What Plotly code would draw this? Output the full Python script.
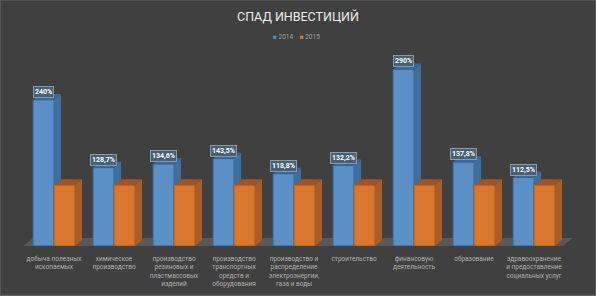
import plotly.graph_objects as go

categories = ["добыча полезных<br>ископаемых", "химическое<br>производство",
              "производство<br>резиновых и<br>пластмассовых<br>изделий",
              "производство<br>транспортных<br>средств и<br>оборудования",
              "производство и<br>распределение<br>электроэнергии,<br>газа и воды",
              "строительство", "финансовую<br>деятельность", "образование",
              "здравоохранение<br>и предоставление<br>социальных услуг"]
values_2014 = [240, 128.7, 134.6, 143.5, 118.8, 132.2, 290, 137.8, 112.5]
values_2015 = [100, 100, 100, 100, 100, 100, 100, 100, 100]
labels_2014 = ["240%", "128,7%", "134,6%", "143,5%", "118,8%", "132,2%", "290%", "137,8%", "112,5%"]

W, H = 596, 296
BASE_PX = 246.5
PX_PER_UNIT = 0.61
CAT_PX = 60.0
X0_PX = 54.0
DX = 7 / CAT_PX          # depth of the pseudo-3D bars, data units
DY = 6 / PX_PER_UNIT
BW = 21 / CAT_PX
FONT = "Roboto, Lato, sans-serif"

BLUE, BLUE_SIDE, BLUE_TOP, BLUE_LINE = "#5a90c6", "#3f6f9f", "#39689a", "#2f6497"
ORANGE, ORANGE_SIDE, ORANGE_TOP, ORANGE_LINE = "#d9772f", "#a95d29", "#9c5526", "#a8581f"

xs = list(range(len(categories)))
fig = go.Figure()
fig.add_bar(x=xs, y=values_2014, name="2014", showlegend=False,
            marker=dict(color=BLUE, line=dict(color=BLUE_LINE, width=1)))
fig.add_bar(x=xs, y=values_2015, name="2015", showlegend=False,
            marker=dict(color=ORANGE, line=dict(color=ORANGE_LINE, width=1)))


def poly(px, py, color):
    fig.add_scatter(x=px + [px[0]], y=py + [py[0]], mode="lines", fill="toself", fillcolor=color,
                    line=dict(width=0, color=color), showlegend=False, hoverinfo="skip")


for i, (a, b) in enumerate(zip(values_2014, values_2015)):
    # blue side and top; the part behind the orange bar is left out
    r = i
    poly([r, r, r + DX, r + DX], [min(a, b), a, a + DY, min(a, b)], BLUE_SIDE)
    poly([r - BW, r, r + DX, r - BW + DX], [a, a, a + DY, a + DY], BLUE_TOP)
    # orange side and top
    r = i + BW
    poly([r, r, r + DX, r + DX], [0, b, b + DY, DY], ORANGE_SIDE)
    poly([r - BW, r, r + DX, r - BW + DX], [b, b, b + DY, b + DY], ORANGE_TOP)

for i, (a, t) in enumerate(zip(values_2014, labels_2014)):
    fig.add_annotation(x=i - BW / 2, y=a, text=f"<b>{t}</b>", showarrow=False, yanchor="bottom", yshift=2,
                       font=dict(family=FONT, size=7, color="#ffffff"),
                       bgcolor="#46607a", bordercolor="#8c99a6", borderwidth=1, borderpad=1)

# legend line
fig.add_annotation(xref="paper", yref="paper", x=296 / W, y=1 - 37.5 / BASE_PX, showarrow=False,
                   xanchor="center", yanchor="middle",
                   text=f'<span style="color:{BLUE}">■</span> 2014    <span style="color:{ORANGE}">■</span> 2015',
                   font=dict(family=FONT, size=6.5, color="#a0a0a0"))

floor_y = 13
fig.add_shape(type="path", layer="below", xref="x", yref="y", line=dict(width=0), fillcolor="#595858",
              path=f"M {(23 - X0_PX) / CAT_PX} 0 L {(33 - X0_PX) / CAT_PX} {floor_y} "
                   f"L {(573 - X0_PX) / CAT_PX} {floor_y} L {(563 - X0_PX) / CAT_PX} 0 Z")
fig.add_shape(type="rect", xref="paper", yref="paper", x0=0, x1=1, y0=-(H - BASE_PX) / BASE_PX, y1=1,
              line=dict(color="#6a6a6a", width=1), fillcolor="rgba(0,0,0,0)")

fig.update_layout(
    width=W, height=H, autosize=False, barmode="group", bargap=0.3, bargroupgap=0, showlegend=False,
    paper_bgcolor="#404040", plot_bgcolor="rgba(0,0,0,0)",
    margin=dict(l=0, r=0, t=0, b=H - BASE_PX, pad=0),
    font=dict(family=FONT, color="#b0b0b0", size=6.5),
    title=dict(text="СПАД ИНВЕСТИЦИЙ", x=298 / W, xanchor="center", y=1 - 17 / H, yanchor="middle",
               font=dict(family=FONT, size=12.5, color="#ededed")),
    xaxis=dict(range=[-X0_PX / CAT_PX, (W - X0_PX) / CAT_PX], tickvals=xs, ticktext=categories, tickangle=0,
               ticks="outside", ticklen=6, tickcolor="rgba(0,0,0,0)", showgrid=False, zeroline=False,
               showline=False, tickfont=dict(size=6.5, color="#b0b0b0")),
    yaxis=dict(range=[0, BASE_PX / PX_PER_UNIT], visible=False, showgrid=False, zeroline=False),
)
fig.write_html("out.html", config={"displayModeBar": False},
               post_script="document.body.style.margin='0';document.body.style.overflow='hidden';")
